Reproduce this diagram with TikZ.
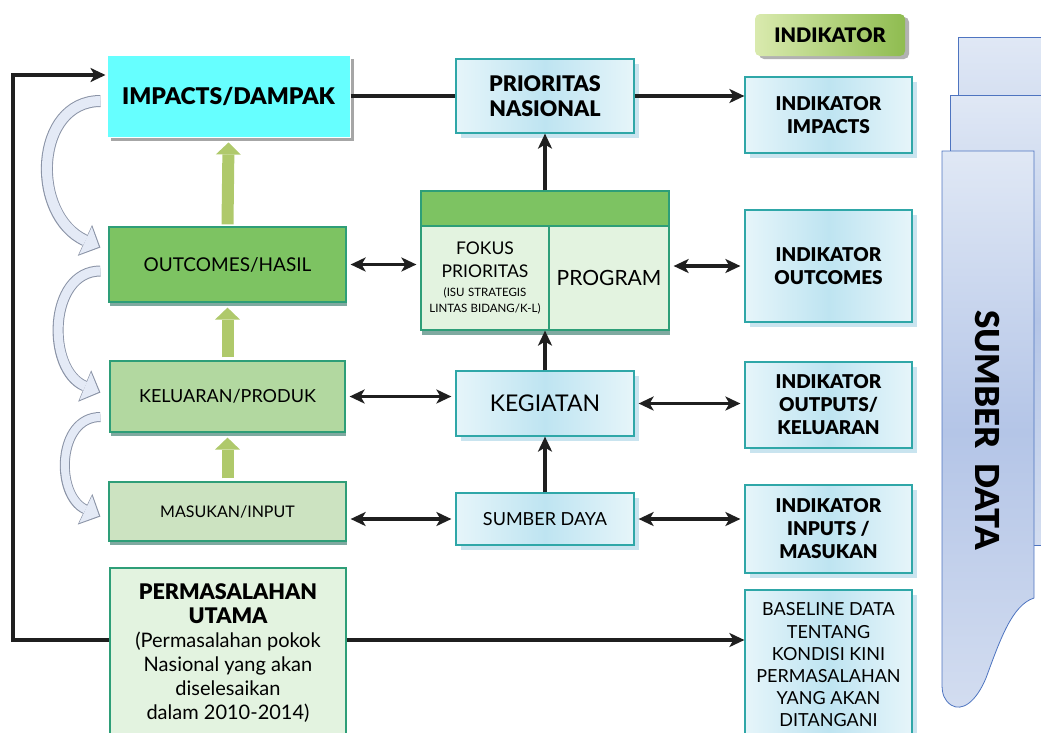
\documentclass[tikz,border=0pt]{standalone}
\usepackage{fontspec}
\setmainfont{Lato}
\newfontfamily\heavy{Lato Black}
\usetikzlibrary{arrows.meta,shadows}
\definecolor{cyanbox}{HTML}{66FFFF}
\definecolor{gdark}{HTML}{7DC362}
\definecolor{gmid}{HTML}{B2D8A0}
\definecolor{glight}{HTML}{CCE3C1}
\definecolor{gpale}{HTML}{E3F3E0}
\definecolor{gedge}{HTML}{2E9E78}
\definecolor{gshadow}{HTML}{7FA9A0}
\definecolor{bedge}{HTML}{2FA7A8}
\definecolor{bmid}{HTML}{BEE4F1}
\definecolor{bside}{HTML}{E6F5FA}
\definecolor{bshadow}{HTML}{C9E4EF}
\definecolor{blockg}{HTML}{AFC96B}
\definecolor{curvedge}{HTML}{8A93A6}
\definecolor{curvfill}{HTML}{E4EAF6}
\definecolor{sdedge}{HTML}{4E74C0}
\definecolor{sdtop}{HTML}{E0E8F5}
\definecolor{sdmid}{HTML}{B4C5E7}
\definecolor{sdbot}{HTML}{D3DDF0}
\definecolor{hdleft}{HTML}{D9EAAE}
\definecolor{hdright}{HTML}{8FBC50}
\newcommand\mycurvarrow[5]{%
  \draw[line width=#5pt, draw=curvedge, -{Triangle[width=34pt,length=17pt,line width=0pt]}] #1 .. controls #2 and #3 .. #4;
  \draw[line width=#5pt-2pt, draw=curvfill, shorten >=1.6pt, -{Triangle[width=30pt,length=14.8pt,line width=0pt]}] #1 .. controls #2 and #3 .. #4;}
\begin{document}
\begin{tikzpicture}[x=1pt,y=-1pt,
  greenbox/.style={draw=gedge, line width=1.2pt, align=center, inner sep=2pt,
     general shadow={fill=gshadow, shadow xshift=1pt, shadow yshift=-4pt}},
  bluebox/.style={draw=bedge, line width=1.2pt, align=center, inner sep=2pt,
     left color=bside, right color=bside, middle color=bmid,
     general shadow={fill=bshadow, shadow xshift=5pt, shadow yshift=-5pt}},
  conn/.style={line width=3.2pt, draw=black!88},
  arr/.style={conn, -{Stealth[length=15pt,width=14pt,inset=4pt]}},
  darr/.style={conn, {Stealth[length=15pt,width=14pt,inset=4pt]}-{Stealth[length=15pt,width=14pt,inset=4pt]}, shorten <=4pt, shorten >=4pt},
  blockarr/.style={line width=12pt, draw=blockg, -{Triangle[width=25pt,length=12pt,line width=0pt]}},
  indfont/.style={font=\fontsize{19}{23}\heavy}
]
\useasboundingbox (0,0) rectangle (1041,732);

% SUMBER DATA pages
\path[draw=sdedge, line width=0.8pt, top color=sdtop, bottom color=sdbot, middle color=sdmid]
  (958,37) -- (1050,37) -- (1050,540) -- (958,540) -- cycle;
\path[draw=sdedge, line width=0.8pt, top color=sdtop, bottom color=sdbot, middle color=sdmid]
  (950,95) -- (1050,95) -- (1050,545) -- (1041,545) -- (950,545) -- cycle;
\path[draw=sdedge, line width=0.8pt, top color=sdtop, bottom color=sdbot, middle color=sdmid]
  (942,151) -- (1034,151) -- (1034,598) .. controls (1012,605) and (1000,640) .. (986,678)
  .. controls (976,702) and (962,712) .. (951,705) .. controls (944,700) and (942,694) .. (942,684) -- cycle;
\node[rotate=-90, font=\fontsize{33}{36}\heavy] (sumberdata) at (988,430) {SUMBER~~DATA};

% left column
\node[fill=cyanbox, draw=white, line width=1pt, minimum width=243pt, minimum height=82pt,
  font=\fontsize{23}{26}\heavy,
  general shadow={fill=black!35, shadow xshift=4pt, shadow yshift=-4pt}] (impacts) at (228.5,96) {IMPACTS/DAMPAK};
\node[greenbox, fill=gdark, minimum width=237pt, minimum height=75pt, font=\fontsize{19}{22}\selectfont] (outcomes) at (227.5,264.5) {OUTCOMES/HASIL};
\node[greenbox, fill=gmid, minimum width=235pt, minimum height=71pt, font=\fontsize{18}{21}\selectfont] (keluaran) at (227.5,396.5) {KELUARAN/PRODUK};
\node[greenbox, fill=glight, minimum width=237pt, minimum height=59pt, font=\fontsize{16}{19}\selectfont] (masukan) at (227.5,511.5) {MASUKAN/INPUT};
\node[greenbox, fill=gpale, minimum width=236pt, minimum height=170pt, font=\fontsize{20}{24}\selectfont] (perm) at (228,653)
  {{\fontsize{21.5}{24}\heavy PERMASALAHAN}\\{\fontsize{21.5}{24}\heavy UTAMA}\\(Permasalahan pokok\\Nasional yang akan\\diselesaikan\\dalam 2010-2014)};

% middle column
\node[bluebox, minimum width=178pt, minimum height=74pt, font=\fontsize{21.5}{25}\heavy] (prio) at (545,96) {PRIORITAS\\NASIONAL};
\node[fill=gpale, minimum width=248pt, minimum height=140pt, inner sep=0pt,
  general shadow={fill=gshadow, shadow xshift=1pt, shadow yshift=-4pt}] (fp) at (545,261) {};
\node[draw=gedge, fill=gdark, line width=1.2pt, minimum width=248pt, minimum height=36pt, inner sep=0pt] (fphead) at (545,209) {};
\node[draw=gedge, fill=gpale, line width=1.2pt, minimum width=128pt, minimum height=104pt, inner sep=0pt,
  text width=126pt, align=center] (fpl) at (485,278)
  {{\fontsize{17.5}{23}\selectfont FOKUS\\PRIORITAS\par}\vspace{3pt}{\fontsize{11.5}{16}\selectfont (ISU STRATEGIS\\LINTAS BIDANG/K-L)\par}};
\node[draw=gedge, fill=gpale, line width=1.2pt, minimum width=120pt, minimum height=104pt, inner sep=0pt, font=\fontsize{21}{24}\selectfont] (fpr) at (609,278) {PROGRAM};
\node[bluebox, minimum width=178pt, minimum height=65pt, font=\fontsize{23}{26}\selectfont] (keg) at (545,403.5) {KEGIATAN};
\node[bluebox, minimum width=178pt, minimum height=52pt, font=\fontsize{18}{21}\selectfont] (sd) at (545,519) {SUMBER DAYA};

% right column
\node[rounded corners=5pt, left color=hdleft, right color=hdright, minimum width=150pt, minimum height=42pt, font=\fontsize{20}{23}\heavy,
  general shadow={fill=black!30, shadow xshift=4pt, shadow yshift=-3pt}] (indhead) at (830,35) {INDIKATOR};
\node[bluebox, minimum width=167pt, minimum height=76pt, indfont] (ii) at (828.5,115) {INDIKATOR\\IMPACTS};
\node[bluebox, minimum width=167pt, minimum height=112pt, indfont] (io) at (828.5,266) {INDIKATOR\\OUTCOMES};
\node[bluebox, minimum width=167pt, minimum height=86pt, indfont] (iout) at (828.5,405) {INDIKATOR\\OUTPUTS/\\KELUARAN};
\node[bluebox, minimum width=167pt, minimum height=88pt, indfont] (iin) at (828.5,529) {INDIKATOR\\INPUTS /\\MASUKAN};
\node[bluebox, minimum width=167pt, minimum height=150pt, font=\fontsize{18}{22.2}\selectfont] (base) at (828.5,665)
  {BASELINE DATA\\TENTANG\\KONDISI KINI\\PERMASALAHAN\\YANG AKAN\\DITANGANI};

% connectors
\coordinate (L1) at (13,640);
\coordinate (L2) at (13,75);
\draw[arr] (perm.west |- L1) -- (L1) -- (L2) -- ([xshift=-1pt]impacts.west |- L2);
\draw[arr] (perm.east |- L1) -- (base.west |- L1);
\draw[conn] (impacts.east) -- (prio.west);
\draw[arr] (prio.east) -- (prio.east -| ii.west);
\draw[arr] (fphead.north) -- (prio.south);
\draw[arr] (keg.north) -- (keg.north |- fpl.south);
\draw[arr] (sd.north) -- (keg.south);
\draw[darr] (outcomes.east) -- (outcomes.east -| fpl.west);
\draw[darr] (io.west -| fpr.east) -- (io.west);
\draw[darr] (keluaran.east) -- (keluaran.east -| keg.west);
\draw[darr] (keg.east) -- (keg.east -| iout.west);
\draw[darr] (sd.west -| masukan.east) -- (sd.west);
\draw[darr] (sd.east) -- (sd.east -| iin.west);

% green block arrows
\draw[blockarr] ([yshift=2pt]outcomes.north) -- ([yshift=-5pt]impacts.south);
\draw[blockarr] ([yshift=3pt]keluaran.north) -- ([yshift=-5pt]outcomes.south);
\draw[blockarr] ([yshift=3pt]masukan.north) -- ([yshift=-5pt]keluaran.south);

% curved arrows
\mycurvarrow{([xshift=-6pt,yshift=-5pt]impacts.west)}{(34,101)}{(30,215)}{([xshift=-8pt,yshift=17pt]outcomes.west)}{12}
\mycurvarrow{([xshift=-8pt,yshift=-6.5pt]outcomes.west)}{(48,271)}{(46,370)}{([xshift=-9pt,yshift=4pt]keluaran.west)}{11}
\mycurvarrow{([xshift=-9pt,yshift=-20.5pt]keluaran.west)}{(57,417)}{(55,495)}{([xshift=-8pt,yshift=-5pt]masukan.west)}{10}
\end{tikzpicture}
\end{document}
